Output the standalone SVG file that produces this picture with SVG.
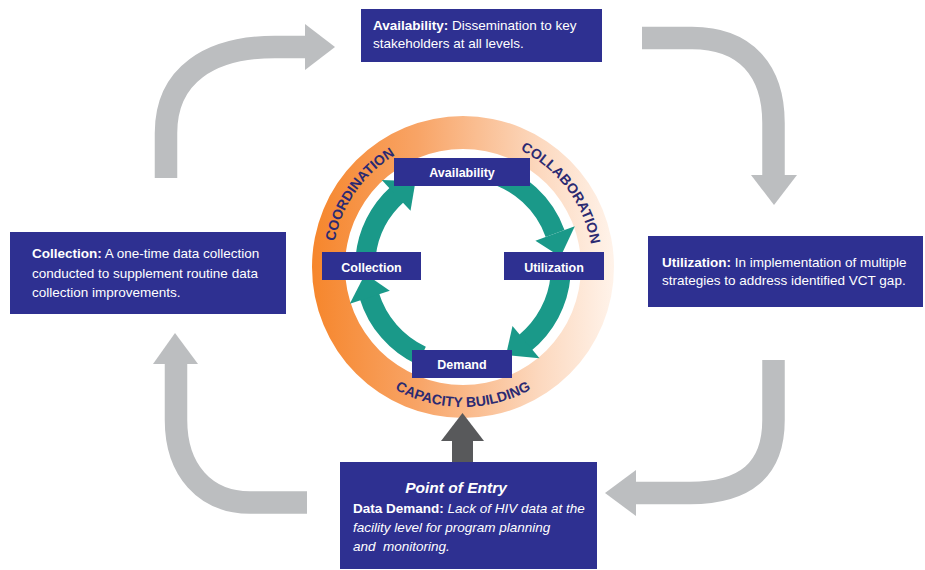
<svg xmlns="http://www.w3.org/2000/svg" width="925" height="570" viewBox="0 0 925 570">
<defs>
<linearGradient id="ringGrad" x1="0" y1="0" x2="1" y2="0">
<stop offset="0" stop-color="#F6862C"/>
<stop offset="0.35" stop-color="#F8A466"/>
<stop offset="0.75" stop-color="#FCD8BE"/>
<stop offset="1" stop-color="#FFF3EA"/>
</linearGradient>
<path id="pCoord" d="M332.5,278.4 A131,131 0 0 1 429.1,140.5"/>
<path id="pCollab" d="M492.3,140.3 A130,130 0 0 1 592.8,273.8"/>
<path id="pCap" d="M373,374.2 A140,140 0 0 0 553,374.2"/>
</defs>
<style>
.box{fill:#2E3091;}
.txt{font-family:"Liberation Sans",Arial,sans-serif;fill:#FFFFFF;font-size:13.5px;}
.b{font-weight:bold;}
.i{font-style:italic;}
.inner{font-family:"Liberation Sans",Arial,sans-serif;fill:#FFFFFF;font-size:12.5px;font-weight:bold;text-anchor:middle;}
.ringtxt{font-family:"Liberation Sans",Arial,sans-serif;fill:#2B2A72;font-size:14px;font-weight:bold;}
.gray{fill:none;stroke:#BCBEC0;stroke-width:22.5;}
.grayhead{fill:#BCBEC0;}
.teal{fill:none;stroke:#1A9989;stroke-width:20;}
.tealhead{fill:#1A9989;}
</style>
<rect width="925" height="570" fill="#FFFFFF"/>

<g id="ring">
<path fill="url(#ringGrad)" fill-rule="evenodd" d="M312,267 A151,151 0 1 0 614,267 A151,151 0 1 0 312,267 Z M345,267 A118,118 0 1 1 581,267 A118,118 0 1 1 345,267 Z"/>
<text class="ringtxt"><textPath href="#pCoord" startOffset="50%" text-anchor="middle">COORDINATION</textPath></text>
<text class="ringtxt"><textPath href="#pCollab" startOffset="50%" text-anchor="middle">COLLABORATION</textPath></text>
<text class="ringtxt"><textPath href="#pCap" startOffset="50%" text-anchor="middle">CAPACITY BUILDING</textPath></text>
</g>

<g id="connectors">
<!-- outer gray arrows -->
<path class="gray" d="M166,178 L166,133 C166,75 210,47 275,47 L306,47"/>
<polygon class="grayhead" points="305,24 335,47 305,70"/>
<path class="gray" d="M642,38 L692,38 C745,38 773.5,70 773.5,123 L773.5,176"/>
<polygon class="grayhead" points="751,175 774,205 797,175"/>
<path class="gray" d="M773.5,360 L773.5,420 C773.5,470 745,493 690,493 L634,493"/>
<polygon class="grayhead" points="636,470 605,493 636,516"/>
<path class="gray" d="M307,502.5 L250,502.5 C205,502.5 176,470 176,420 L176,362"/>
<polygon class="grayhead" points="153,364 175,333 198,364"/>
<!-- entry arrow -->
<rect x="452" y="439" width="21" height="25" fill="#58595B"/>
<polygon fill="#58595B" points="441,441 462.5,413 484,441"/>
<!-- teal cycle arrows -->
<path class="teal" d="M488.4,172.3 A98,98 0 0 1 555.1,233.5"/>
<polygon class="tealhead" points="535.4,240.7 574.8,226.3 560.5,256.8"/>
<path class="teal" d="M560.6,275.5 A98,98 0 0 1 524.7,343.2"/>
<polygon class="tealhead" points="512.5,326 539.5,358.2 506,355.1"/>
<path class="teal" d="M421.6,355.8 A98,98 0 0 1 369.3,295.7"/>
<polygon class="tealhead" points="389.8,290.8 349.8,303.8 365.2,273.8"/>
<path class="teal" d="M365.4,258.5 A98,98 0 0 1 397.4,194.2"/>
<polygon class="tealhead" points="410.5,210.7 381.8,180 415.5,181.3"/>
</g>

<g id="inner-availability">
<rect class="box" x="394" y="158" width="136" height="28"/>
<text class="inner" x="462" y="176.5">Availability</text>
</g>
<g id="inner-utilization">
<rect class="box" x="504" y="252" width="100" height="28"/>
<text class="inner" x="554" y="271.5">Utilization</text>
</g>
<g id="inner-demand">
<rect class="box" x="412" y="350" width="100" height="28"/>
<text class="inner" x="462" y="369">Demand</text>
</g>
<g id="inner-collection">
<rect class="box" x="322" y="252" width="99" height="28"/>
<text class="inner" x="371.5" y="271.5">Collection</text>
</g>

<g id="availability">
<rect class="box" x="361" y="9" width="241" height="53"/>
<text class="txt" x="373" y="30"><tspan class="b">Availability:</tspan> Dissemination to key</text>
<text class="txt" x="373" y="48">stakeholders at all levels.</text>
</g>
<g id="utilization">
<rect class="box" x="648" y="236" width="275" height="71"/>
<text class="txt" x="662" y="267"><tspan class="b">Utilization:</tspan> In implementation of multiple</text>
<text class="txt" x="662" y="285">strategies to address identified VCT gap.</text>
</g>
<g id="collection">
<rect class="box" x="10" y="232" width="276" height="82"/>
<text class="txt" x="32" y="258"><tspan class="b">Collection:</tspan> A one-time data collection</text>
<text class="txt" x="32" y="277.5">conducted to supplement routine data</text>
<text class="txt" x="32" y="297">collection improvements.</text>
</g>
<g id="entry">
<rect class="box" x="340" y="462" width="257" height="107"/>
<text class="txt b i" x="456" y="493" text-anchor="middle" style="font-size:15.5px">Point of Entry</text>
<text class="txt" x="353" y="513"><tspan class="b">Data Demand:</tspan> <tspan class="i">Lack of HIV data at the</tspan></text>
<text class="txt i" x="353" y="532">facility level for program planning</text>
<text class="txt i" x="353" y="551" xml:space="preserve">and  monitoring.</text>
</g>
</svg>
